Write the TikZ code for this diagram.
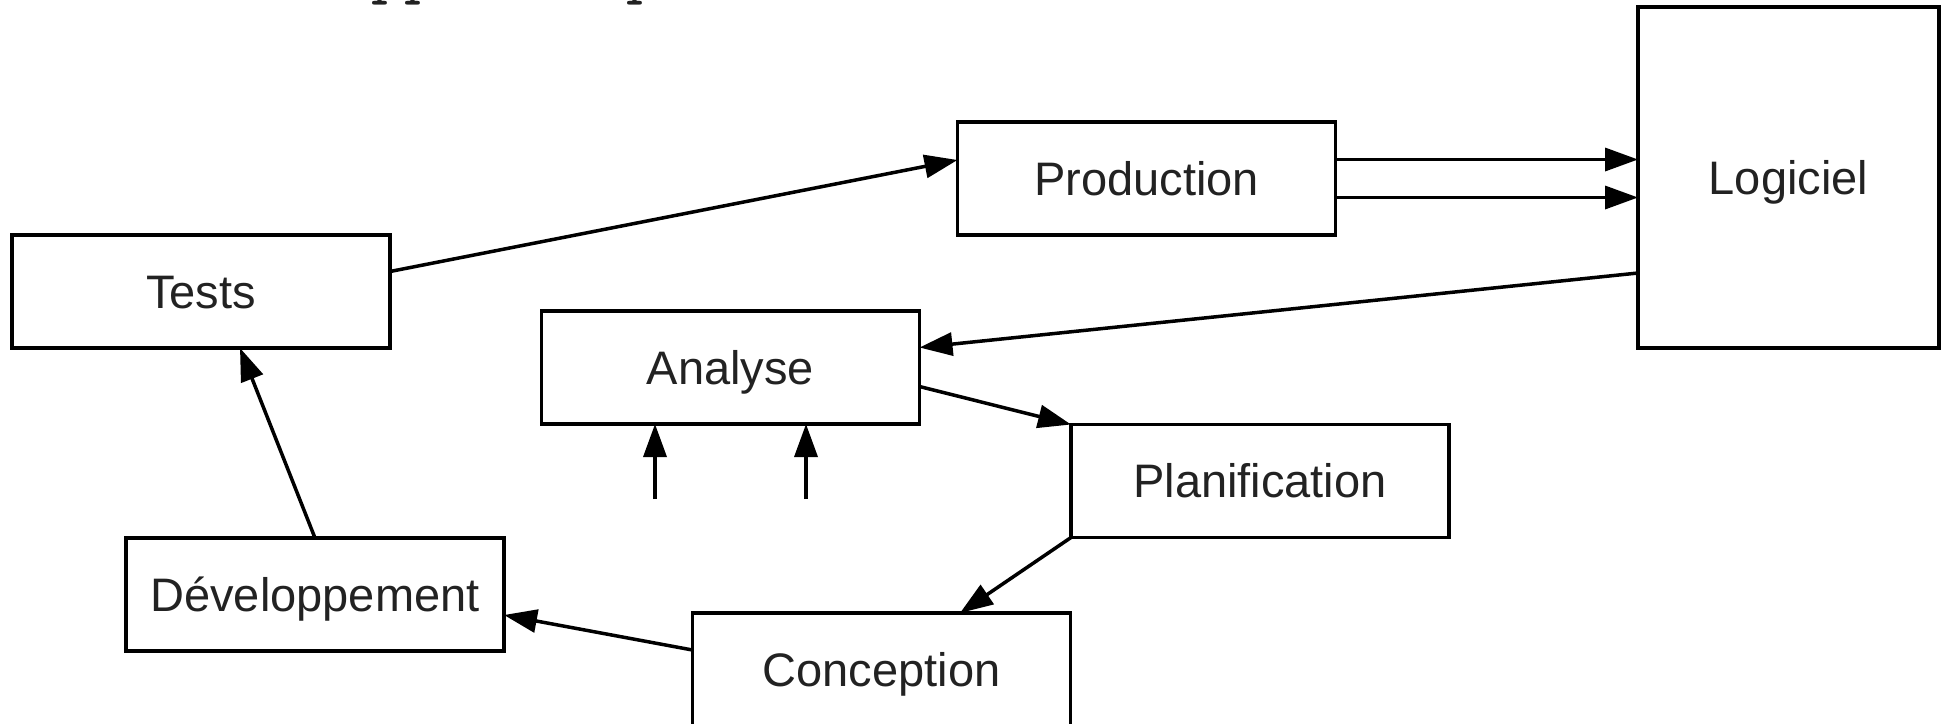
\documentclass[tikz,border=0pt]{standalone}
\usepackage{fontspec}
\setmainfont{Liberation Sans}
\usetikzlibrary{arrows.meta}
\definecolor{txt}{RGB}{34,34,34}
\tikzset{
  box/.style={draw=black, line width=1.75pt, fill=white, inner sep=0pt, outer sep=0pt,
    minimum width=189pt, minimum height=56.5pt, text=txt,
    font=\fontsize{23.5pt}{28pt}\selectfont, text height=16.8pt, text depth=0pt},
  arr/.style={line width=1.75pt, -{Triangle[length=16.5pt,width=11.5pt]}},
  frag/.style={inner sep=0pt, outer sep=0pt, anchor=base west, text=txt,
    font=\ttfamily\fontsize{32.9pt}{34pt}\selectfont}
}
\begin{document}
\begin{tikzpicture}[x=0.5pt,y=-0.5pt]
\useasboundingbox (0,0) rectangle (1941,723);
% cut-off text fragments at the top edge
\node[frag] (f1) at (371,-10) {pp};
\node[frag] (f2) at (626,-10) {p};
% boxes
\node[box] (tests) at (201,291.5) {Tests};
\node[box] (prod) at (1146.5,178.5) {Production};
\node[box, minimum width=150.5pt, minimum height=170.5pt] (logi) at (1788.5,177.5) {Logiciel};
\node[box] (ana) at (730.5,367.5) {Analyse};
\node[box] (plan) at (1260,481) {Planification};
\node[box] (dev) at (315,594.5) {Développement};
\node[box] (conc) at (881.5,669.5) {Conception};
% connectors
\draw[arr] ([yshift=10pt]tests.east) -- ([yshift=9.25pt]prod.west);
\coordinate (p1) at ([yshift=9.5pt]prod.east);
\coordinate (p2) at ([yshift=-9.5pt]prod.east);
\draw[arr] (p1) -- (p1 -| logi.west);
\draw[arr] (p2) -- (p2 -| logi.west);
\draw[arr] ([yshift=-47.75pt]logi.west) -- ([yshift=10pt]ana.east);
\draw[arr] ([yshift=-9.5pt]ana.east) -- (plan.north west);
\draw[arr] (plan.south west) -- ([xshift=39.25pt]conc.north);
\draw[arr] ([yshift=9.75pt]conc.west) -- ([yshift=-10.25pt]dev.east);
\draw[arr] (dev.north) -- ([xshift=19.5pt]tests.south);
\coordinate (u1) at (655,499);
\coordinate (u2) at (806,499);
\draw[arr] (u1) -- (u1 |- ana.south);
\draw[arr] (u2) -- (u2 |- ana.south);
\end{tikzpicture}
\end{document}
